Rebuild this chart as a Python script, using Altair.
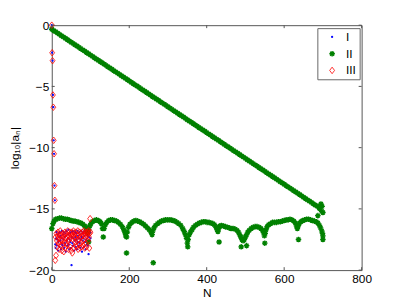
import altair as alt
import pandas as pd

series_names = ["I", "II", "III"]
series_colors = ["#0000ff", "#008000", "#ff0000"]
x_ticks = [0, 200, 400, 600, 800]
y_ticks = [-20, -15, -10, -5, 0]

# Series I (blue dots)
i_n = list(range(0, 101))
i_y = [0.0, -2.25, -2.9, -5.7, -6.7, -9.4, -10.5, -13.1, -14.3,
       -17.9, -18.2, -17.4, -16.9, -18.0, -17.5, -17.1, -18.4, -17.7, -17.0, -17.3,
       -18.1, -16.9, -17.6, -17.2, -18.3, -17.4, -16.8, -17.9, -18.0, -17.1,
       -17.5, -16.9, -18.2, -17.3, -17.8, -17.0, -18.5, -17.2, -16.8, -17.6,
       -18.0, -17.4, -17.1, -16.7, -17.9, -18.3, -17.5, -17.0, -17.7, -18.2,
       -16.9, -19.6, -17.3, -17.8, -16.8, -18.0, -17.4, -17.1, -18.4, -17.6,
       -16.9, -17.3, -18.1, -17.0, -17.5, -18.3, -16.8, -17.7, -17.2, -18.0,
       -17.4, -16.9, -17.8, -17.1, -18.2, -17.5, -16.8, -17.3, -18.5, -17.0,
       -17.6, -16.9, -17.4, -18.1, -17.2, -16.8, -17.7, -18.3, -17.0, -17.5,
       -16.9, -17.9, -17.2, -18.0, -16.9, -18.7, -17.3, -17.0, -17.6, -16.9,
       -17.4]

# Series III (red diamonds)
iii_n = list(range(0, 101))
iii_y = [0.0, -2.25, -2.9, -5.7, -6.7, -9.4, -10.5, -13.1, -14.3,
         -19.2, -17.3, -18.8, -17.0, -17.6, -18.1, -17.2, -16.9, -17.8, -17.4, -18.3,
         -17.1, -17.7, -16.8, -18.0, -17.5, -17.2, -18.4, -17.6, -17.0, -17.9,
         -17.3, -18.5, -17.1, -17.7, -16.9, -18.2, -17.4, -17.8, -17.0, -18.0,
         -17.3, -16.8, -17.6, -18.3, -17.2, -17.5, -16.9, -18.1, -17.4, -17.0,
         -18.4, -16.9, -17.2, -18.6, -17.0, -17.5, -16.8, -18.2, -17.3, -17.0,
         -17.7, -18.0, -16.9, -17.4, -18.1, -17.1, -17.6, -16.8, -18.3, -17.2,
         -17.5, -17.9, -16.9, -18.2, -17.3, -17.0, -17.8, -18.1, -17.2, -16.9,
         -17.6, -18.0, -17.1, -16.8, -17.5, -18.2, -17.0, -17.3, -16.9, -17.8,
         -18.1, -17.2, -16.9, -17.0, -17.6, -16.8, -17.3, -18.2, -17.0, -15.8,
         -16.9]

# Series II (green asterisks): decaying line
line_n = list(range(0, 691, 5)) + [692, 695, 697, 698, 700]
line_y = [-0.33, -0.44, -0.54, -0.65, -0.75, -0.86, -0.96, -1.07, -1.17, -1.28,
          -1.39, -1.49, -1.60, -1.70, -1.81, -1.91, -2.02, -2.12, -2.23, -2.33,
          -2.44, -2.55, -2.65, -2.76, -2.86, -2.97, -3.07, -3.18, -3.28, -3.39,
          -3.50, -3.60, -3.71, -3.81, -3.92, -4.02, -4.13, -4.23, -4.34, -4.44,
          -4.55, -4.66, -4.76, -4.87, -4.97, -5.08, -5.18, -5.29, -5.39, -5.50,
          -5.61, -5.71, -5.82, -5.92, -6.03, -6.13, -6.24, -6.34, -6.45, -6.55,
          -6.66, -6.77, -6.87, -6.98, -7.08, -7.19, -7.29, -7.40, -7.50, -7.61,
          -7.72, -7.82, -7.93, -8.03, -8.14, -8.24, -8.35, -8.45, -8.56, -8.66,
          -8.77, -8.88, -8.98, -9.09, -9.19, -9.30, -9.40, -9.51, -9.61, -9.72,
          -9.83, -9.93, -10.04, -10.14, -10.25, -10.35, -10.46, -10.56, -10.67, -10.77,
          -10.88, -10.99, -11.09, -11.20, -11.30, -11.41, -11.51, -11.62, -11.72, -11.83,
          -11.94, -12.04, -12.15, -12.25, -12.36, -12.46, -12.57, -12.67, -12.78, -12.88,
          -12.99, -13.10, -13.20, -13.31, -13.41, -13.52, -13.62, -13.73, -13.83, -13.94,
          -14.05, -14.15, -14.26, -14.36, -14.47, -14.57, -14.68, -14.78, -14.89,
          -15.0, -14.6, -15.2, -14.8, -15.3]

# Series II: round-off floor
floor_n = [0, 3, 6, 10, 15, 20, 25, 30, 35, 40, 45, 50, 55, 60, 65, 70, 75, 80, 85, 88,
           91, 93, 95, 98, 101, 105, 110, 115, 120, 125, 128, 131, 133, 135, 138, 142, 147, 152, 157, 162,
           167, 172, 177, 182, 186, 189, 191, 193, 195, 198, 202, 207, 212, 217, 222, 227, 232, 237, 242, 247,
           252, 256, 259, 261, 264, 268, 273, 278, 283, 288, 293, 298, 303, 308, 313, 318, 323, 328, 333, 338,
           342, 345, 348, 350, 352, 355, 358, 362, 366, 371, 376, 381, 386, 391, 396, 401, 406, 411, 416, 420,
           424, 427, 429, 431, 434, 438, 443, 448, 453, 458, 463, 468, 473, 478, 482, 485, 488, 491, 494, 497,
           500, 503, 506, 510, 515, 520, 525, 530, 535, 540, 544, 547, 549, 551, 553, 556, 560, 565, 570, 575,
           580, 585, 590, 595, 600, 605, 610, 615, 620, 625, 629, 632, 634, 636, 639, 643, 648, 653, 658, 663,
           668, 673, 678, 683, 687, 691, 694, 697, 699, 700]
floor_y = [-16.6, -16.2, -16.0, -15.85, -15.8, -15.75, -15.75, -15.8, -15.85, -15.85, -15.9, -15.95, -16.0, -16.0, -16.05, -16.1, -16.15, -16.25, -16.4, -16.55,
           -16.8, -17.0, -16.7, -16.4, -16.2, -16.05, -15.95, -15.9, -15.95, -16.05, -16.2, -16.6, -17.3, -16.6, -16.3, -16.1, -15.95, -15.9, -15.9, -15.95,
           -16.0, -16.1, -16.25, -16.45, -16.7, -16.95, -17.2, -17.3, -16.9, -16.5, -16.25, -16.1, -16.0, -15.95, -16.0, -16.05, -16.15, -16.25, -16.4, -16.55,
           -16.7, -16.9, -17.1, -16.8, -16.55, -16.35, -16.2, -16.1, -16.0, -15.95, -15.9, -15.9, -15.9, -15.9, -15.95, -16.0, -16.1, -16.2, -16.35, -16.6,
           -16.85, -17.1, -17.4, -17.8, -17.5, -17.1, -16.9, -16.7, -16.5, -16.35, -16.25, -16.15, -16.1, -16.05, -16.05, -16.1, -16.1, -16.15, -16.2, -16.3,
           -16.5, -16.7, -16.85, -16.6, -16.4, -16.35, -16.4, -16.45, -16.5, -16.55, -16.6, -16.6, -16.65, -16.75, -16.9, -17.1, -17.3, -17.5, -17.6, -17.5,
           -17.3, -17.1, -16.9, -16.75, -16.6, -16.5, -16.45, -16.45, -16.5, -16.6, -16.75, -16.95, -17.2, -17.0, -16.7, -16.45, -16.3, -16.2, -16.1, -16.1,
           -16.1, -16.05, -16.05, -16.0, -15.95, -15.9, -15.9, -15.85, -15.9, -16.0, -16.15, -16.4, -16.6, -16.4, -16.2, -16.05, -15.95, -15.9, -15.85, -15.85,
           -15.9, -15.95, -16.0, -16.05, -16.15, -16.35, -16.55, -16.8, -17.0, -17.2]

# Series II: scattered outliers
out_n = [95, 193, 262, 351, 432, 489, 503, 550, 637, 700, 687]
out_y = [-17.7, -18.6, -19.4, -18.1, -17.7, -18.1, -18.0, -17.8, -17.5, -17.5, -15.55]

rows = []
for n, v in zip(i_n, i_y):
    rows.append({"N": n, "v": v, "s": "I", "ord": 0})
for n, v in zip(line_n + floor_n + out_n, line_y + floor_y + out_y):
    rows.append({"N": n, "v": v, "s": "II", "ord": 1})
for n, v in zip(iii_n, iii_y):
    rows.append({"N": n, "v": v, "s": "III", "ord": 2})
df = pd.DataFrame(rows)

asterisk = "M-1,0L1,0M0,-1L0,1M-0.7,-0.7L0.7,0.7M-0.7,0.7L0.7,-0.7"
diamond = "M0,-1L0.75,0L0,1L-0.75,0Z"

W, H = 315, 249
FONT = "Liberation Sans"

points = alt.Chart(df).mark_point(filled=False, opacity=1).encode(
    x=alt.X("N:Q", scale=alt.Scale(domain=[0, 800], nice=False),
            axis=alt.Axis(values=x_ticks, title="N", grid=False, domain=False, tickSize=0,
                          labelPadding=4, titlePadding=3, labelFlush=False)),
    y=alt.Y("v:Q", scale=alt.Scale(domain=[-20, 0], nice=False, zero=False),
            axis=alt.Axis(values=y_ticks, title="log₁₀|aₙ|", grid=False, domain=False, tickSize=0,
                          labelPadding=3, titlePadding=7, labelFlush=False)),
    color=alt.Color("s:N", scale=alt.Scale(domain=series_names, range=series_colors),
                    legend=alt.Legend(title=None)),
    shape=alt.Shape("s:N", scale=alt.Scale(domain=series_names, range=["circle", asterisk, diamond]),
                    legend=alt.Legend(title=None)),
    size=alt.Size("s:N", scale=alt.Scale(type="ordinal", domain=series_names, range=[1, 32, 44]),
                  legend=alt.Legend(title=None)),
    strokeWidth=alt.StrokeWidth("s:N", scale=alt.Scale(type="ordinal", domain=series_names, range=[1.3, 1.4, 0.8]),
                                legend=None),
    order=alt.Order("ord:Q"),
)

tick_x = pd.DataFrame({"t": x_ticks})
tick_y = pd.DataFrame({"t": y_ticks})
TK = "#555555"
xt_bottom = alt.Chart(tick_x).mark_rule(color=TK, strokeWidth=1).encode(
    x="t:Q", y=alt.value(H), y2=alt.value(H - 3))
xt_top = alt.Chart(tick_x).mark_rule(color=TK, strokeWidth=1).encode(
    x="t:Q", y=alt.value(0), y2=alt.value(3))
yt_left = alt.Chart(tick_y).mark_rule(color=TK, strokeWidth=1).encode(
    y="t:Q", x=alt.value(0), x2=alt.value(3))
yt_right = alt.Chart(tick_y).mark_rule(color=TK, strokeWidth=1).encode(
    y="t:Q", x=alt.value(W), x2=alt.value(W - 3))

chart = alt.layer(points, xt_bottom, xt_top, yt_left, yt_right).properties(
    width=W, height=H,
    autosize=alt.AutoSizeParams(type="none"),
    padding={"left": 44.5, "top": 15, "right": 38, "bottom": 33},
    background="white",
).configure_view(
    stroke=TK, strokeWidth=1
).configure_axis(
    labelFont=FONT, titleFont=FONT, labelFontSize=12, titleFontSize=12,
    labelColor="black", titleColor="black", titleFontWeight="normal",
).configure_legend(
    orient="none", legendX=270, legendY=3,
    strokeColor="#666666", fillColor="white", padding=3, rowPadding=5,
    symbolOffset=6, labelOffset=8, labelFont=FONT, labelFontSize=12, labelColor="black",
    symbolStrokeWidth=1.2, cornerRadius=0,
)

chart.save("out.html", embed_options={"renderer": "svg", "actions": False})
